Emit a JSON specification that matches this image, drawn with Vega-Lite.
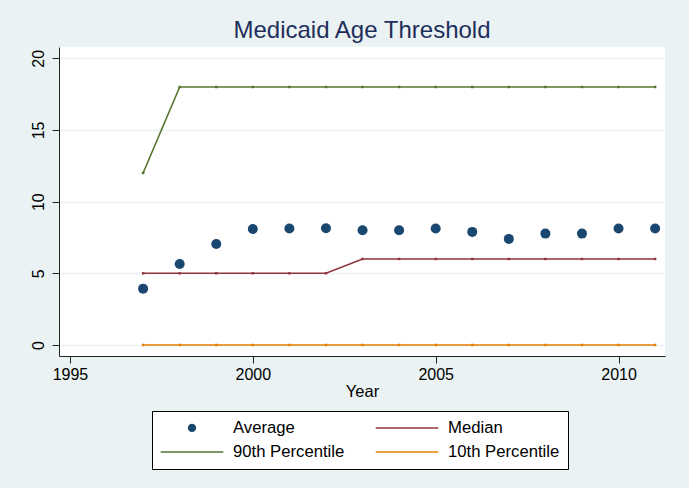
{
  "$schema": "https://vega.github.io/schema/vega-lite/v6.json",
  "width": 606,
  "height": 309,
  "autosize": {"type": "none"},
  "padding": {"left": 59, "top": 47, "right": 24, "bottom": 132},
  "background": "#EAF2F3",
  "title": {
    "text": "Medicaid Age Threshold",
    "font": "Liberation Sans",
    "fontSize": 24,
    "fontWeight": "normal",
    "color": "#1F2F5C",
    "anchor": "middle",
    "baseline": "alphabetic",
    "offset": 9,
    "dy": 24
  },
  "data": {
    "values": [
      {"year": 1997, "series": "Average", "value": 3.93},
      {"year": 1998, "series": "Average", "value": 5.65},
      {"year": 1999, "series": "Average", "value": 7.05},
      {"year": 2000, "series": "Average", "value": 8.09},
      {"year": 2001, "series": "Average", "value": 8.12},
      {"year": 2002, "series": "Average", "value": 8.14},
      {"year": 2003, "series": "Average", "value": 8.0},
      {"year": 2004, "series": "Average", "value": 8.0},
      {"year": 2005, "series": "Average", "value": 8.12},
      {"year": 2006, "series": "Average", "value": 7.89},
      {"year": 2007, "series": "Average", "value": 7.4},
      {"year": 2008, "series": "Average", "value": 7.77},
      {"year": 2009, "series": "Average", "value": 7.77},
      {"year": 2010, "series": "Average", "value": 8.12},
      {"year": 2011, "series": "Average", "value": 8.12},
      {"year": 1997, "series": "Median", "value": 5},
      {"year": 1998, "series": "Median", "value": 5},
      {"year": 1999, "series": "Median", "value": 5},
      {"year": 2000, "series": "Median", "value": 5},
      {"year": 2001, "series": "Median", "value": 5},
      {"year": 2002, "series": "Median", "value": 5},
      {"year": 2003, "series": "Median", "value": 6},
      {"year": 2004, "series": "Median", "value": 6},
      {"year": 2005, "series": "Median", "value": 6},
      {"year": 2006, "series": "Median", "value": 6},
      {"year": 2007, "series": "Median", "value": 6},
      {"year": 2008, "series": "Median", "value": 6},
      {"year": 2009, "series": "Median", "value": 6},
      {"year": 2010, "series": "Median", "value": 6},
      {"year": 2011, "series": "Median", "value": 6},
      {"year": 1997, "series": "90th Percentile", "value": 12},
      {"year": 1998, "series": "90th Percentile", "value": 18},
      {"year": 1999, "series": "90th Percentile", "value": 18},
      {"year": 2000, "series": "90th Percentile", "value": 18},
      {"year": 2001, "series": "90th Percentile", "value": 18},
      {"year": 2002, "series": "90th Percentile", "value": 18},
      {"year": 2003, "series": "90th Percentile", "value": 18},
      {"year": 2004, "series": "90th Percentile", "value": 18},
      {"year": 2005, "series": "90th Percentile", "value": 18},
      {"year": 2006, "series": "90th Percentile", "value": 18},
      {"year": 2007, "series": "90th Percentile", "value": 18},
      {"year": 2008, "series": "90th Percentile", "value": 18},
      {"year": 2009, "series": "90th Percentile", "value": 18},
      {"year": 2010, "series": "90th Percentile", "value": 18},
      {"year": 2011, "series": "90th Percentile", "value": 18},
      {"year": 1997, "series": "10th Percentile", "value": 0},
      {"year": 1998, "series": "10th Percentile", "value": 0},
      {"year": 1999, "series": "10th Percentile", "value": 0},
      {"year": 2000, "series": "10th Percentile", "value": 0},
      {"year": 2001, "series": "10th Percentile", "value": 0},
      {"year": 2002, "series": "10th Percentile", "value": 0},
      {"year": 2003, "series": "10th Percentile", "value": 0},
      {"year": 2004, "series": "10th Percentile", "value": 0},
      {"year": 2005, "series": "10th Percentile", "value": 0},
      {"year": 2006, "series": "10th Percentile", "value": 0},
      {"year": 2007, "series": "10th Percentile", "value": 0},
      {"year": 2008, "series": "10th Percentile", "value": 0},
      {"year": 2009, "series": "10th Percentile", "value": 0},
      {"year": 2010, "series": "10th Percentile", "value": 0},
      {"year": 2011, "series": "10th Percentile", "value": 0}
    ]
  },
  "encoding": {
    "x": {
      "field": "year",
      "type": "quantitative",
      "title": "Year",
      "scale": {"domain": [1994.7, 2011.27], "nice": false, "zero": false},
      "axis": {
        "values": [1995, 2000, 2005, 2010],
        "format": "d",
        "grid": false,
        "labelPadding": 3,
        "titlePadding": 1
      }
    },
    "y": {
      "field": "value",
      "type": "quantitative",
      "title": null,
      "scale": {"domain": [-0.77, 20.79], "nice": false, "zero": false},
      "axis": {
        "values": [0, 5, 10, 15, 20],
        "grid": true,
        "gridColor": "#EAF2F3",
        "gridWidth": 1.5,
        "labelAngle": 270,
        "labelAlign": "center",
        "labelBaseline": "alphabetic",
        "labelPadding": 8.3
      }
    },
    "color": {
      "field": "series",
      "type": "nominal",
      "scale": {
        "domain": ["Average", "Median", "90th Percentile", "10th Percentile"],
        "range": ["#1A476F", "#90353B", "#55752F", "#E37E00"]
      },
      "legend": {
        "title": null,
        "orient": "none",
        "legendX": 93,
        "legendY": 364,
        "values": ["Average", "90th Percentile", "Median", "10th Percentile"],
        "columns": 2,
        "columnPadding": 30,
        "rowPadding": 6.4,
        "padding": 8,
        "clipHeight": 17,
        "fillColor": "white",
        "strokeColor": "#000000",
        "cornerRadius": 0,
        "labelFont": "Liberation Sans",
        "labelFontSize": 16.7,
        "labelColor": "#000000",
        "labelOffset": 9,
        "labelLimit": 300,
        "symbolSize": 3906,
        "symbolStrokeWidth": 1.5,
        "symbolOffset": 0,
        "encode": {
          "symbols": {
            "update": {
              "shape": {"signal": "datum.value === 'Average' ? 'M-0.11,0A0.11,0.11 0 1,0 0.11,0A0.11,0.11 0 1,0 -0.11,0Z' : 'M-1,0L1,0'"},
              "fill": {"signal": "datum.value === 'Average' ? '#1A476F' : 'transparent'"},
              "stroke": {"scale": "color", "field": "value"},
              "strokeWidth": {"value": 1.5},
              "opacity": {"value": 1}
            }
          }
        }
      }
    }
  },
  "layer": [
    {
      "transform": [{"filter": "datum.series === 'Average'"}],
      "mark": {"type": "point", "filled": true, "shape": "circle", "size": 100, "opacity": 1}
    },
    {
      "transform": [{"filter": "datum.series !== 'Average'"}],
      "mark": {
        "type": "line",
        "strokeWidth": 1.6,
        "point": {"filled": true, "shape": "square", "size": 6, "opacity": 1}
      }
    }
  ],
  "config": {
    "font": "Liberation Sans",
    "view": {"fill": "white", "stroke": null},
    "axis": {
      "labelFont": "Liberation Sans",
      "labelFontSize": 16,
      "labelColor": "#000000",
      "titleFont": "Liberation Sans",
      "titleFontSize": 16.5,
      "titleFontWeight": "normal",
      "titleColor": "#000000",
      "domainColor": "#222222",
      "domainWidth": 1,
      "tickColor": "#222222",
      "tickSize": 7,
      "tickWidth": 1
    }
  }
}
